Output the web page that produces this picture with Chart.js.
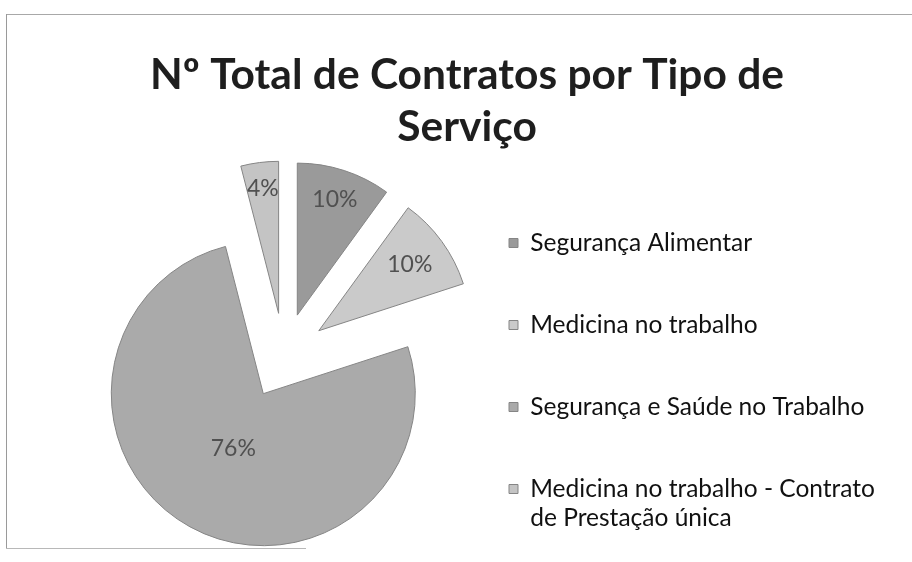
<!DOCTYPE html>
<html>
<head>
<meta charset="utf-8">
<script src="https://cdn.jsdelivr.net/npm/chart.js@4/dist/chart.umd.min.js"></script>
<style>
  html, body { margin: 0; padding: 0; background: #ffffff; }
  #wrap { position: relative; width: 912px; height: 562px; overflow: hidden; background: #ffffff; }
  #frameTop { position: absolute; left: 6px; top: 14px; width: 906px; height: 0; border-top: 1px solid #a8a8a8; }
  #frameLeft { position: absolute; left: 6px; top: 14px; width: 0; height: 534px; border-left: 1px solid #9a9a9a; }
  #frameBottom { position: absolute; left: 6px; top: 548px; width: 300px; height: 0; border-top: 1px solid #b8b8b8; }
  canvas { position: absolute; left: 0; top: 0; }
</style>
</head>
<body>
<div id="wrap">
  <div id="frameTop"></div>
  <div id="frameLeft"></div>
  <div id="frameBottom"></div>
  <canvas id="c" width="912" height="562"></canvas>
</div>
<script>
// ---- data ----
const titleLines = ['Nº Total de Contratos por Tipo de', 'Serviço'];
const categories = [
  ['Segurança Alimentar'],
  ['Medicina no trabalho'],
  ['Segurança e Saúde no Trabalho'],
  ['Medicina no trabalho - Contrato', 'de Prestação única']
];
const shares = [10, 10, 76, 4];
const sliceColors = ['#9a9a9a', '#cacaca', '#aaaaaa', '#c4c4c4'];

// move each slice outward along its bisector (exploded pie)
const explode = {
  id: 'explode',
  afterDatasetUpdate(chart, args, opts) {
    const meta = chart.getDatasetMeta(args.index);
    meta.data.forEach(arc => {
      const mid = (arc.startAngle + arc.endAngle) / 2;
      arc.x += Math.cos(mid) * opts.distance;
      arc.y += Math.sin(mid) * opts.distance;
    });
  }
};

// let the legend text run to the canvas edge instead of being clipped
const legendRoom = {
  id: 'legendRoom',
  afterLayout(chart) {
    const lg = chart.legend;
    if (lg) { lg.right = chart.width; lg.width = lg.right - lg.left; }
  }
};

// percentage labels inside slices
const sliceLabels = {
  id: 'sliceLabels',
  afterDatasetsDraw(chart, args, opts) {
    const ctx = chart.ctx;
    const meta = chart.getDatasetMeta(0);
    const vals = chart.data.datasets[0].data;
    const total = vals.reduce((a, b) => a + b, 0);
    ctx.save();
    ctx.font = opts.font;
    ctx.fillStyle = opts.color;
    ctx.textAlign = 'center';
    ctx.textBaseline = 'middle';
    meta.data.forEach((arc, i) => {
      const mid = (arc.startAngle + arc.endAngle) / 2;
      const r = arc.outerRadius * opts.radii[i];
      const pct = Math.round(vals[i] / total * 100) + '%';
      ctx.fillText(pct, arc.x + Math.cos(mid) * r, arc.y + Math.sin(mid) * r);
    });
    ctx.restore();
  }
};

new Chart(document.getElementById('c'), {
  type: 'pie',
  data: {
    labels: categories,
    datasets: [{
      data: shares,
      backgroundColor: sliceColors,
      borderColor: '#858585',
      borderWidth: 1,
      radius: 152
    }]
  },
  plugins: [explode, legendRoom, sliceLabels],
  options: {
    responsive: false,
    animation: false,
    layout: { padding: { left: 112, right: 90, top: 0, bottom: 3 } },
    plugins: {
      explode: { distance: 43 },
      sliceLabels: { font: '23px Lato', color: '#505050', radii: [0.8, 0.74, 0.41, 0.83] },
      tooltip: { enabled: false },
      title: {
        display: true,
        text: titleLines,
        color: '#1e1e1e',
        font: { family: 'Lato', size: 42.5, weight: 'bold', lineHeight: '52px' },
        padding: { top: 49, bottom: 0 }
      },
      legend: {
        display: true,
        position: 'right',
        align: 'start',
        maxWidth: 366,
        title: { display: true, text: ' ', font: { size: 1, lineHeight: '177.75px' }, padding: 0 },
        labels: {
          boxWidth: 9,
          boxHeight: 9,
          padding: 53,
          color: '#111111',
          font: { family: 'Lato', size: 24.5, lineHeight: '29px' }
        }
      }
    }
  }
});
</script>
</body>
</html>
